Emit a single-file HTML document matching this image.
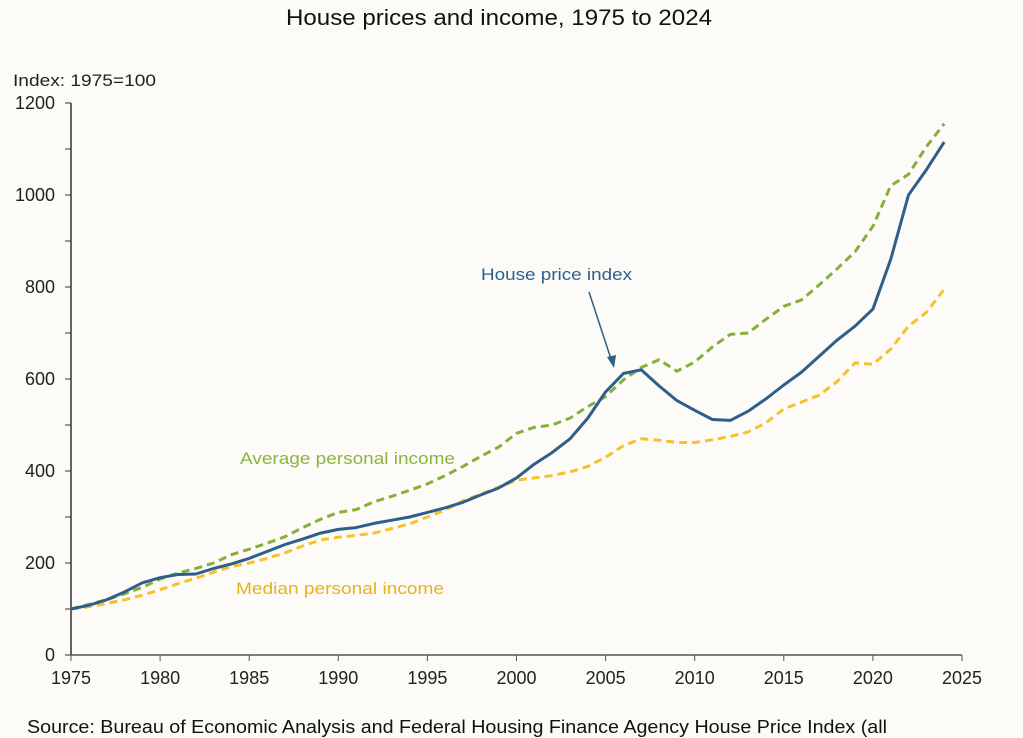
<!DOCTYPE html>
<html><head><meta charset="utf-8"><style>
body{margin:0;background:#fcfbf7;width:1023px;height:738px;overflow:hidden;font-family:"Liberation Sans",sans-serif}
svg{display:block}
</style></head><body>
<svg id="chart" width="1023" height="738" xmlns="http://www.w3.org/2000/svg">
<rect width="1023" height="738" fill="#fcfbf7"/>
<text x="286" y="25" textLength="426" lengthAdjust="spacingAndGlyphs" font-size="22" fill="#111">House prices and income, 1975 to 2024</text>
<text x="13" y="86" textLength="143" lengthAdjust="spacingAndGlyphs" font-size="17" fill="#222">Index: 1975=100</text>
<g id="axes"></g>
<g id="series"></g>
<text x="481" y="280" textLength="151" lengthAdjust="spacingAndGlyphs" font-size="17" fill="#2e5f8a">House price index</text>
<line x1="589" y1="292" x2="612" y2="362" stroke="#2e5f8a" stroke-width="1.5"/>
<polygon points="614,368 607,357 616,355" fill="#2e5f8a"/>
<text x="240" y="464" textLength="215" lengthAdjust="spacingAndGlyphs" font-size="17" fill="#8db33f">Average personal income</text>
<text x="236" y="594" textLength="208" lengthAdjust="spacingAndGlyphs" font-size="17" fill="#e9b21c">Median personal income</text>
<text x="27" y="733" textLength="860" lengthAdjust="spacingAndGlyphs" font-size="18" fill="#111">Source: Bureau of Economic Analysis and Federal Housing Finance Agency House Price Index (all</text>
</svg>
<script>
const years = [];
for (let y = 1975; y <= 2024; y++) years.push(y);
const housePrice = [100,108,120,137,157,168,175,176,188,198,210,225,240,252,265,273,277,286,293,300,310,320,332,348,363,385,415,440,470,515,572,612,620,585,553,532,512,510,530,557,587,615,650,685,715,752,860,1000,1055,1115];
const avgIncome = [100,110,120,133,147,165,178,188,200,218,230,243,257,277,295,310,316,333,345,358,372,390,410,432,452,482,495,500,515,540,562,598,625,642,617,637,670,697,700,730,758,772,805,840,877,932,1020,1045,1105,1155];
const medIncome = [100,105,112,120,130,142,155,167,180,192,200,210,222,237,250,256,260,265,275,285,300,315,335,350,365,380,385,390,398,410,430,455,470,467,462,462,468,475,485,505,535,550,565,595,635,632,665,715,745,795];
const xTicks = [1975,1980,1985,1990,1995,2000,2005,2010,2015,2020,2025];
const yTicks = [0,200,400,600,800,1000,1200];
const NS = "http://www.w3.org/2000/svg";
const X = v => 71 + (v - 1975) * (891 / 50);
const Y = v => 655 - v * (552 / 1200);
function mk(tag, attrs, parent){const e=document.createElementNS(NS,tag);for(const k in attrs)e.setAttribute(k,attrs[k]);parent.appendChild(e);return e;}
const axes = document.getElementById('axes');
let e = mk('line',{x1:71,y1:Y(1200),x2:71,y2:655,stroke:'#333','stroke-width':1.5},axes);


e = mk('line',{x1:71,y1:655,x2:962,y2:655,stroke:'#555','stroke-width':1.5},axes);


for (let v = 0; v <= 1200; v += 100) {
  e = mk('line',{x1:65,y1:Y(v),x2:71,y2:Y(v),stroke:'#333','stroke-width':1},axes);
  
  
}
yTicks.forEach(v => {
  const t = mk('text',{x:55,y:Y(v)+6,'text-anchor':'end','font-size':18,fill:'#222'},axes);
  t.textContent = v;
  
  
});
xTicks.forEach(v => {
  const l = mk('line',{x1:X(v),y1:655,x2:X(v),y2:661,stroke:'#555','stroke-width':1},axes);
  
  
  const t = mk('text',{x:X(v),y:684,'text-anchor':'middle','font-size':18,fill:'#222'},axes);
  t.textContent = v;
  
  
});
const series = document.getElementById('series');
function line(data, color, dash, name){
  const d = data.map((v,i)=>(i?'L':'M')+X(years[i]).toFixed(1)+','+Y(v).toFixed(1)).join(' ');
  const p = mk('path',{d:d,fill:'none',stroke:color,'stroke-width':3,'stroke-dasharray':dash||'none','stroke-linejoin':'round'},series);
  
  
}
line(medIncome,'#f5c12e','8 5','median-income-line');
line(avgIncome,'#86b03c','8 5','average-income-line');
line(housePrice,'#2e5f8a',null,'house-price-line');
</script>
</body></html>
